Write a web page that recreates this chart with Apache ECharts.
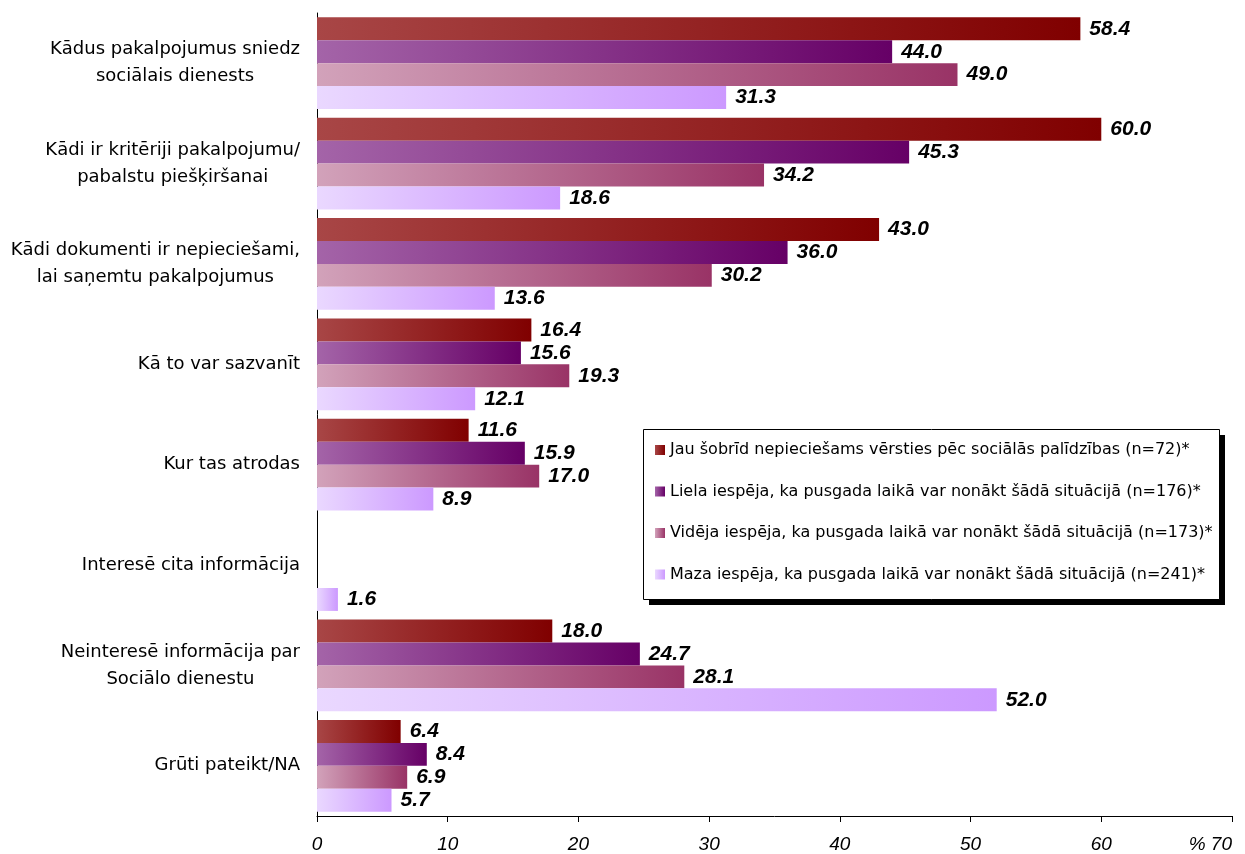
<!DOCTYPE html>
<html>
<head>
<meta charset="utf-8">
<script src="https://cdn.jsdelivr.net/npm/echarts@6/dist/echarts.min.js"></script>
<style>
html,body{margin:0;padding:0;background:#fff;}
#chart{width:1245px;height:854px;}
</style>
</head>
<body>
<div id="chart"></div>
<script>
const categories = [
  'Kādus pakalpojumus sniedz\nsociālais dienests',
  'Kādi ir kritēriji pakalpojumu/\npabalstu piešķiršanai',
  'Kādi dokumenti ir nepieciešami,\nlai saņemtu pakalpojumus',
  'Kā to var sazvanīt',
  'Kur tas atrodas',
  'Interesē cita informācija',
  'Neinteresē informācija par\nSociālo dienestu',
  'Grūti pateikt/NA'
];
const seriesNames = [
  'Jau šobrīd nepieciešams vērsties pēc sociālās palīdzības (n=72)*',
  'Liela iespēja, ka pusgada laikā var nonākt šādā situācijā (n=176)*',
  'Vidēja iespēja, ka pusgada laikā var nonākt šādā situācijā (n=173)*',
  'Maza iespēja, ka pusgada laikā var nonākt šādā situācijā (n=241)*'
];
const valuesNow = [58.4, 60.0, 43.0, 16.4, 11.6, null, 18.0, 6.4];
const valuesHigh = [44.0, 45.3, 36.0, 15.6, 15.9, null, 24.7, 8.4];
const valuesMid = [49.0, 34.2, 30.2, 19.3, 17.0, null, 28.1, 6.9];
const valuesLow = [31.3, 18.6, 13.6, 12.1, 8.9, 1.6, 52.0, 5.7];
const xTicks = ['0', '10', '20', '30', '40', '50', '60', '% 70'];

const FONT = '"Liberation Sans", Arial, sans-serif';
const WIDE = '"DejaVu Sans", "Liberation Sans", Arial, sans-serif';
const gradients = [
  ['#a84646', '#800000'],
  ['#a464a8', '#660066'],
  ['#d2a2ba', '#993366'],
  ['#ead8ff', '#cc99ff']
];
const allValues = [valuesNow, valuesHigh, valuesMid, valuesLow];

const chart = echarts.init(document.getElementById('chart'), null, {renderer: 'canvas'});

const series = allValues.map((vals, i) => ({
  name: seriesNames[i],
  type: 'bar',
  data: vals,
  barGap: '0%',
  barCategoryGap: '8.6%',
  itemStyle: {
    color: new echarts.graphic.LinearGradient(0, 0, 1, 0, [
      {offset: 0, color: gradients[i][0]},
      {offset: 1, color: gradients[i][1]}
    ])
  },
  label: {
    show: true,
    position: 'right',
    distance: 9,
    color: '#000',
    fontFamily: FONT,
    fontSize: 21,
    fontWeight: 'bold',
    fontStyle: 'italic',
    formatter: p => (p.value == null ? '' : Number(p.value).toFixed(1))
  }
}));

chart.setOption({
  backgroundColor: '#fff',
  animation: false,
  grid: {left: 317, right: 13, top: 13, bottom: 36, containLabel: false},
  graphic: [
    {type: 'rect', z: 10, silent: true, shape: {x: 649, y: 435, width: 576, height: 170}, style: {fill: '#000'}},
    {type: 'rect', z: 11, silent: true, shape: {x: 643.5, y: 429.5, width: 576, height: 170}, style: {fill: '#fff', stroke: '#000', lineWidth: 1}}
  ],
  legend: {
    orient: 'vertical',
    left: 655,
    top: 442,
    z: 20,
    icon: 'rect',
    itemWidth: 10,
    itemHeight: 10,
    itemGap: 25.5,
    padding: 0,
    textStyle: {fontFamily: WIDE, fontSize: 16, color: '#000'},
    data: seriesNames
  },
  xAxis: {
    type: 'value',
    min: 0,
    max: 70,
    interval: 10,
    splitLine: {show: false},
    axisLine: {show: true, lineStyle: {color: '#000', width: 1}},
    axisTick: {show: true, length: 6, lineStyle: {color: '#000'}},
    axisLabel: {
      margin: 19,
      color: '#000',
      fontFamily: FONT,
      fontSize: 19,
      fontStyle: 'italic',
      alignMaxLabel: 'right',
      formatter: (v) => xTicks[Math.round(v / 10)]
    }
  },
  yAxis: {
    type: 'category',
    inverse: true,
    data: categories,
    axisLine: {show: true, lineStyle: {color: '#000', width: 1}},
    axisTick: {show: false},
    axisLabel: {
      margin: 17,
      color: '#000',
      fontFamily: WIDE,
      fontSize: 18,
      formatter: v => v.split('\n').map(s => '{c|' + s + '}').join('\n'),
      rich: {
        c: {align: 'center', fontFamily: WIDE, fontSize: 18, lineHeight: 27, color: '#000'}
      }
    }
  },
  series: series
});
</script>
</body>
</html>
